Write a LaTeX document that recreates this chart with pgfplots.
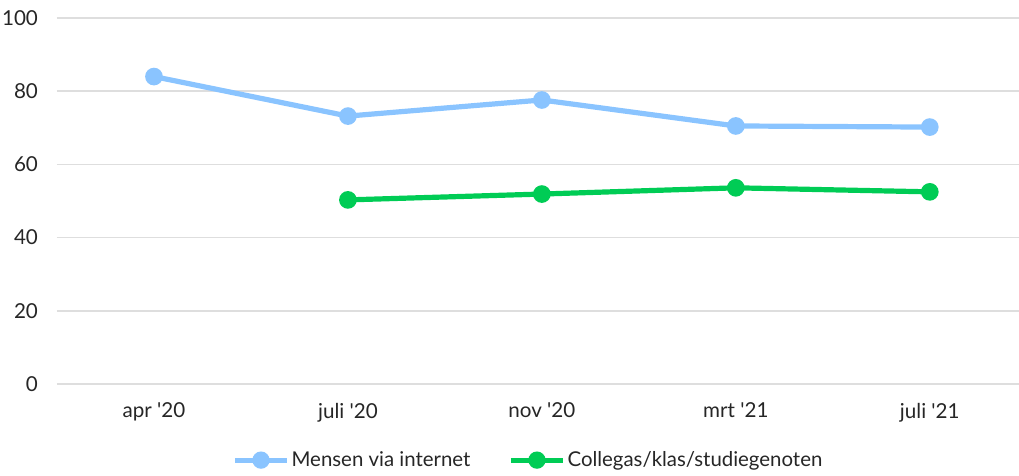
\documentclass[border=0pt]{standalone}
\usepackage{fontspec}
\setmainfont{Lato}
\usepackage{pgfplots}
\pgfplotsset{compat=1.18}
\definecolor{lblue}{RGB}{138,196,255}
\definecolor{lgreen}{RGB}{0,204,85}
\definecolor{gridgray}{RGB}{222,222,222}
\newcommand{\q}{\textquotesingle}
\begin{document}
\begin{tikzpicture}
\begin{axis}[
  scale only axis,
  width=481pt, height=183pt,
  xmin=-0.5, xmax=4.46,
  ymin=0, ymax=100,
  ytick={0,20,40,60,80,100},
  xtick={0,1,2,3,4},
  xticklabels={apr \q20,juli \q20,nov \q20,mrt \q21,juli \q21},
  axis line style={draw=none},
  major tick length=0pt,
  xmajorgrids=false,
  ymajorgrids=true,
  major grid style={draw=gridgray, line width=0.75pt},
  tick label style={font=\fontsize{10.3}{12}\selectfont, text=black!85},
  /pgf/number format/assume math mode=true,
  yticklabel style={xshift=-6pt},
  xticklabel style={yshift=-6pt},
  legend style={at={(0.49,-0.208)}, anchor=center, draw=none, legend columns=2,
    font=\fontsize{10.2}{12}\selectfont, text=black!85,
    nodes={inner sep=1pt},
    /tikz/every even column/.append style={column sep=18pt}},
  legend image code/.code={
    \draw[#1, mark=none] (0pt,0pt) -- (26pt,0pt);
    \fill[#1] (13pt,0pt) circle (3pt);
  },
  clip=false,
]
\addplot[lblue, line width=2.6pt, mark=*, mark size=3.1pt, mark options={solid}]
  coordinates {(0,84) (1,73.2) (2,77.6) (3,70.5) (4,70.2)};
\addlegendentry{Mensen via internet}
\addplot[lgreen, line width=2.6pt, mark=*, mark size=3.1pt, mark options={solid}]
  coordinates {(1,50.3) (2,51.9) (3,53.6) (4,52.5)};
\addlegendentry{Collegas/klas/studiegenoten}
\coordinate (sw) at (rel axis cs:0,0);
\end{axis}
\pgfresetboundingbox
\path (sw) ++(-28.5pt,-46pt) rectangle ++(509.5pt,238pt);
\end{tikzpicture}
\end{document}
